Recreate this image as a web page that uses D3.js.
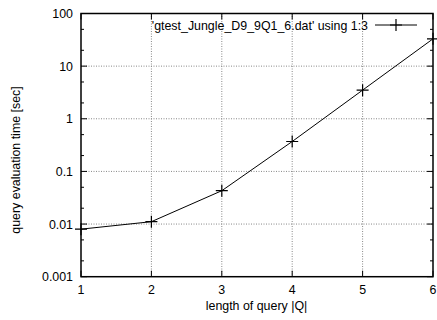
<!DOCTYPE html>
<html>
<head>
<meta charset="utf-8">
<script src="https://cdn.jsdelivr.net/npm/d3@7"></script>
<style>
  body { margin: 0; background: #fff; }
  svg { display: block; font-family: "Liberation Sans", Arial, sans-serif; }
</style>
</head>
<body>
<svg id="chart" width="437" height="320"></svg>
<script>
const queryLength = [1, 2, 3, 4, 5, 6];
const evalTime = [0.008, 0.0111, 0.043, 0.37, 3.5, 33];
const xTicks = [1, 2, 3, 4, 5, 6];
const yTicks = [0.001, 0.01, 0.1, 1, 10, 100];
const yTickLabels = ["0.001", "0.01", "0.1", "1", "10", "100"];
const legendLabel = "'gtest_Jungle_D9_9Q1_6.dat' using 1:3";

const FS = "12.4px";
const svg = d3.select("#chart");
const L = 81, R = 433, T = 13.5, B = 276.7;

const x = d3.scaleLinear().domain([1, 6]).range([L, R]);
const y = d3.scaleLog().domain([0.001, 100]).range([B, T]);

const g = svg.append("g");

// grid
xTicks.slice(1, -1).forEach(t => {
    g.append("line").attr("x1", x(t)).attr("x2", x(t)).attr("y1", T).attr("y2", B)
        .attr("stroke", "#888").attr("stroke-width", 1).attr("stroke-dasharray", "1,1.5");
});
yTicks.slice(1, -1).forEach(t => {
    g.append("line").attr("x1", L).attr("x2", R).attr("y1", y(t)).attr("y2", y(t))
        .attr("stroke", "#888").attr("stroke-width", 1).attr("stroke-dasharray", "1,1.5");
});

// minor ticks at 2 and 5
const minor = [];
yTicks.slice(0, -1).forEach(t => { minor.push(t * 2, t * 5); });
minor.forEach(v => {
    g.append("line").attr("x1", L).attr("x2", L + 3).attr("y1", y(v)).attr("y2", y(v)).attr("stroke", "#000");
    g.append("line").attr("x1", R).attr("x2", R - 3).attr("y1", y(v)).attr("y2", y(v)).attr("stroke", "#000");
});
yTicks.forEach((t, i) => {
    g.append("line").attr("x1", L).attr("x2", L + 6).attr("y1", y(t)).attr("y2", y(t)).attr("stroke", "#000");
    g.append("line").attr("x1", R).attr("x2", R - 6).attr("y1", y(t)).attr("y2", y(t)).attr("stroke", "#000");
    g.append("text").attr("x", L - 8).attr("y", y(t) + 4.5).attr("text-anchor", "end")
        .style("font-size", FS).text(yTickLabels[i]);
});
xTicks.forEach(t => {
    g.append("line").attr("x1", x(t)).attr("x2", x(t)).attr("y1", B).attr("y2", B - 6).attr("stroke", "#000");
    g.append("line").attr("x1", x(t)).attr("x2", x(t)).attr("y1", T).attr("y2", T + 6).attr("stroke", "#000");
    g.append("text").attr("x", x(t)).attr("y", B + 17).attr("text-anchor", "middle")
        .style("font-size", FS).text(t);
});

// border
g.append("rect").attr("x", L).attr("y", T).attr("width", R - L).attr("height", B - T)
    .attr("fill", "none").attr("stroke", "#000").attr("stroke-width", 1.5);

// data line
const line = d3.line().x((d, i) => x(queryLength[i])).y(d => y(d));
g.append("path").datum(evalTime).attr("d", line).attr("fill", "none").attr("stroke", "#000").attr("stroke-width", 1);

function plus(cx, cy) {
    g.append("path").attr("d", `M${cx - 6},${cy}H${cx + 6}M${cx},${cy - 6}V${cy + 6}`)
        .attr("stroke", "#000").attr("stroke-width", 1.2);
}
evalTime.forEach((d, i) => plus(x(queryLength[i]), y(d)));

// legend
g.append("text").attr("x", 368).attr("y", 29.5).attr("text-anchor", "end")
    .style("font-size", FS).text(legendLabel);
g.append("line").attr("x1", 375).attr("x2", 417).attr("y1", 25).attr("y2", 25).attr("stroke", "#000");
plus(396, 25);

// axis titles
g.append("text").attr("x", 256.5).attr("y", 309.5).attr("text-anchor", "middle")
    .style("font-size", FS).text("length of query |Q|");
g.append("text").attr("transform", "translate(20,160) rotate(-90)").attr("text-anchor", "middle")
    .style("font-size", FS).text("query evaluation time [sec]");
</script>
</body>
</html>
